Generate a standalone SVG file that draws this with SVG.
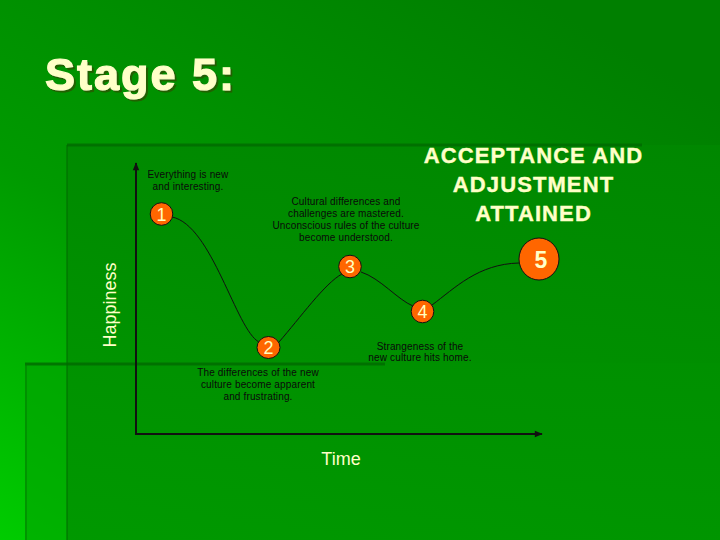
<svg xmlns="http://www.w3.org/2000/svg" width="720" height="540" viewBox="0 0 720 540">
  <defs>
    <linearGradient id="bg" x1="0" y1="1" x2="0.75" y2="0">
      <stop offset="0" stop-color="#00cc00"/>
      <stop offset="0.45" stop-color="#009a00"/>
      <stop offset="1" stop-color="#007f00"/>
    </linearGradient>
    <linearGradient id="ov" x1="0" y1="1" x2="0" y2="0">
      <stop offset="0" stop-color="#009400"/>
      <stop offset="1" stop-color="#008800"/>
    </linearGradient>
    <filter id="shadow" x="-5%" y="-20%" width="115%" height="150%">
      <feDropShadow dx="2" dy="2" stdDeviation="0.6" flood-color="#2f5000" flood-opacity="0.75"/>
    </filter>
    <marker id="arr" viewBox="0 0 10 10" refX="9" refY="5" markerWidth="9" markerHeight="8" orient="auto" markerUnits="userSpaceOnUse">
      <path d="M0,1 L10,5 L0,9 Z" fill="#111"/>
    </marker>
    <style>
      .t { font-family: "Liberation Sans", Arial, sans-serif; }
      .cap { font-family: "Liberation Sans", Arial, sans-serif; font-size: 10px; fill: #0a0a0a; text-anchor: middle; letter-spacing: 0.15px; }
      .dot { fill: #ff6600; stroke: #111; stroke-width: 1; }
      .num { font-family: "Liberation Sans", Arial, sans-serif; font-size: 18px; fill: #ffffc0; text-anchor: middle; }
      .head { font-family: "Liberation Sans", Arial, sans-serif; font-size: 22px; font-weight: bold; fill: #ffffc8; stroke: #ffffc8; stroke-width: 0.4; text-anchor: middle; letter-spacing: 1.1px; }
      .axis { stroke: #111; stroke-width: 2; fill: none; }
      .curve { stroke: #111; stroke-width: 1; fill: none; }
    </style>
  </defs>

  <!-- background -->
  <rect x="0" y="0" width="720" height="540" fill="url(#bg)"/>
  <rect x="25" y="363" width="695" height="177" fill="#00a000" opacity="0.55"/>
  <rect x="67" y="145" width="653" height="395" fill="url(#ov)" opacity="0.85"/>
  <line x1="67" y1="145" x2="642" y2="145" stroke="#006a00" stroke-width="3" opacity="0.8"/>
  <line x1="67" y1="145" x2="67" y2="540" stroke="#006a00" stroke-width="2" opacity="0.5"/>
  <line x1="25" y1="364" x2="385" y2="364" stroke="#006a00" stroke-width="3" opacity="0.8"/>
  <line x1="26" y1="364" x2="26" y2="540" stroke="#007a00" stroke-width="2" opacity="0.5"/>

  <!-- title -->
  <g id="title">
    <text class="t" x="45" y="90" font-size="45" font-weight="bold" letter-spacing="2" fill="#ffffc8" stroke="#ffffc8" stroke-width="1.2" filter="url(#shadow)">Stage 5:</text>
  </g>

  <!-- axes -->
  <g id="axes">
    <line class="axis" x1="136" y1="434" x2="136" y2="163" marker-end="url(#arr)"/>
    <line class="axis" x1="135" y1="434" x2="542" y2="434" marker-end="url(#arr)"/>
    <text class="t" x="0" y="0" font-size="18" fill="#ffffc8" text-anchor="middle" transform="translate(116,305) rotate(-90)">Happiness</text>
    <text class="t" x="341" y="465" font-size="18" fill="#ffffc8" text-anchor="middle">Time</text>
  </g>

  <!-- connectors -->
  <g id="connectors">
    <path class="curve" d="M172,217 C212,225 236,330 259,342"/>
    <path class="curve" d="M279,342 C300,318 325,283 342,274"/>
    <path class="curve" d="M361,272 C380,278 398,300 413,306"/>
    <path class="curve" d="M432,305 C455,288 478,264 519,263"/>
  </g>

  <!-- nodes -->
  <g id="node1">
    <circle class="dot" cx="161.5" cy="214" r="11.3"/>
    <text class="num" x="161.5" y="220.5">1</text>
    <text class="cap" x="188" y="178">Everything is new</text>
    <text class="cap" x="188" y="190">and interesting.</text>
  </g>
  <g id="node2">
    <ellipse class="dot" cx="268.5" cy="347.5" rx="11.5" ry="11"/>
    <text class="num" x="268.5" y="354">2</text>
    <text class="cap" x="258" y="376">The differences of the new</text>
    <text class="cap" x="258" y="388">culture become apparent</text>
    <text class="cap" x="258" y="400">and frustrating.</text>
  </g>
  <g id="node3">
    <circle class="dot" cx="350" cy="266.5" r="11.3"/>
    <text class="num" x="350" y="273">3</text>
    <text class="cap" x="346" y="205">Cultural differences and</text>
    <text class="cap" x="346" y="217">challenges are mastered.</text>
    <text class="cap" x="346" y="229">Unconscious rules of the culture</text>
    <text class="cap" x="346" y="241">become understood.</text>
  </g>
  <g id="node4">
    <circle class="dot" cx="422.5" cy="311.5" r="11.3"/>
    <text class="num" x="422.5" y="318">4</text>
    <text class="cap" x="420" y="349.5">Strangeness of the</text>
    <text class="cap" x="420" y="361">new culture hits home.</text>
  </g>
  <g id="node5">
    <ellipse class="dot" cx="539" cy="259" rx="20" ry="21"/>
    <text class="t" x="541" y="267.5" font-size="23" font-weight="bold" fill="#ffffc8" text-anchor="middle">5</text>
    <text class="head" x="533.5" y="163">ACCEPTANCE AND</text>
    <text class="head" x="533.5" y="192">ADJUSTMENT</text>
    <text class="head" x="533.5" y="221">ATTAINED</text>
  </g>
</svg>
